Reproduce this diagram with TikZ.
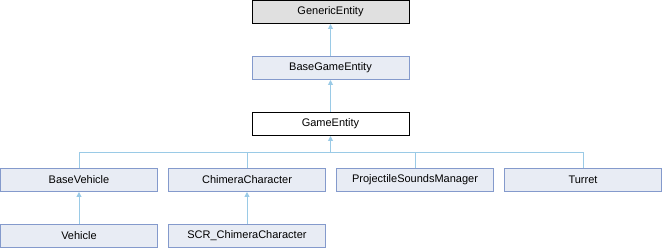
\documentclass[tikz,border=0pt]{standalone}
\usepackage{fontspec}
\setmainfont{Liberation Sans}
\usetikzlibrary{arrows.meta}
\definecolor{boxfill}{RGB}{232,236,244}
\definecolor{boxline}{RGB}{132,154,204}
\definecolor{rootfill}{RGB}{224,224,224}
\definecolor{edgeblue}{RGB}{154,202,230}
\tikzset{
  cls/.style={draw=boxline, fill=boxfill, line width=1pt, minimum width=157pt,
    minimum height=23pt, inner sep=0pt, font=\fontsize{11}{13}\selectfont},
  rootcls/.style={cls, draw=black, fill=rootfill},
  curcls/.style={cls, draw=black, fill=white},
  edge/.style={draw=edgeblue, line width=1pt,
    -{Triangle[width=5pt,length=5pt,fill=edgeblue]}},
  busline/.style={draw=edgeblue, line width=1pt}
}
\begin{document}
\begin{tikzpicture}[x=1pt,y=-1pt]
\useasboundingbox (0,0) rectangle (662,248);
\node[rootcls] (ge0) at (330.5,12) {GenericEntity};
\node[cls] (bge) at (330.5,68) {BaseGameEntity};
\node[curcls] (ge) at (330.5,124) {GameEntity};
\node[cls] (bv) at (79,180) {BaseVehicle};
\node[cls] (cc) at (247,180) {ChimeraCharacter};
\node[cls] (ps) at (415,180) {ProjectileSoundsManager};
\node[cls] (tu) at (583,180) {Turret};
\node[cls] (ve) at (79,236) {Vehicle};
\node[cls] (scr) at (247,236) {SCR\_ChimeraCharacter};
\coordinate (bus) at (330.5,152.5);
% inheritance arrows
\draw[edge] (bge.north) -- (ge0.south);
\draw[edge] (ge.north) -- (bge.south);
\draw[edge] (bus) -- (ge.south);
\draw[busline] (bv.north) -- (bv.north |- bus) -- (tu.north |- bus) -- (tu.north);
\draw[busline] (cc.north) -- (cc.north |- bus);
\draw[busline] (ps.north) -- (ps.north |- bus);
\draw[edge] (ve.north) -- (bv.south);
\draw[edge] (scr.north) -- (cc.south);
\end{tikzpicture}
\end{document}
